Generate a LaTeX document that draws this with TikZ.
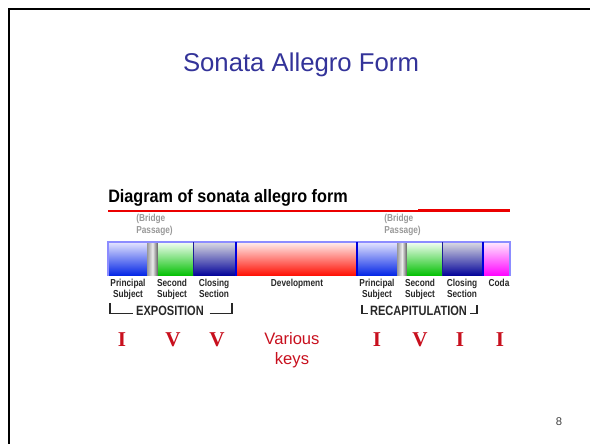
\documentclass[tikz,border=0pt]{standalone}
\usepackage{fontspec}
\setmainfont{Liberation Sans}
\newfontfamily\narrowfont[FakeStretch=0.82]{Liberation Sans}
\newfontfamily\headfont[FakeStretch=0.9]{Liberation Sans}
\newfontfamily\keyfont{Liberation Serif}
\definecolor{titleblue}{RGB}{51, 51, 153}
\definecolor{keyred}{RGB}{200, 16, 30}
\definecolor{rulered}{RGB}{235, 0, 0}
\definecolor{labelgray}{RGB}{40, 40, 40}
\definecolor{barrim}{RGB}{140, 140, 255}
\definecolor{divblue}{RGB}{0, 0, 220}
\definecolor{divnavy}{RGB}{30, 30, 150}
\usetikzlibrary{positioning}

\begin{document}
\begin{tikzpicture}[x=0.025cm, y=-0.025cm,
    seglabel/.style={font=\narrowfont\bfseries\fontsize{7.2}{7.8}\selectfont, text=labelgray, align=center, inner sep=0pt, anchor=north},
    bridgenote/.style={font=\narrowfont\bfseries\fontsize{7.2}{8.2}\selectfont, text=black!40, align=left, inner sep=0pt, anchor=north west},
    sectname/.style={font=\narrowfont\bfseries\fontsize{9.6}{10}\selectfont, text=labelgray, inner sep=0pt},
    keynum/.style={font=\keyfont\bfseries\fontsize{15}{15}\selectfont, text=keyred, inner sep=0pt, anchor=base},
    bracket/.style={line width=1.3pt, labelgray},
    principal/.style={top color=blue!10, middle color=blue!50, bottom color=blue!85!cyan!90!black},
    second/.style={top color=green!4, middle color=green!50!black!40!white, bottom color=green!75!black},
    closing/.style={top color=blue!10!gray!25, middle color=blue!50!gray!70, bottom color=blue!60!black},
    develop/.style={top color=red!6, middle color=red!50, bottom color=red!90!orange},
    coda/.style={top color=magenta!8, middle color=magenta!55, bottom color=magenta},
    bridge/.style={left color=gray!80, right color=gray!70!black, middle color=gray!15}]

  \useasboundingbox (0,0) rectangle (590,444);

  % Slide frame
  \draw[line width=1.5pt, black] (9,444) -- (9,9) -- (590,9);

  % Titles
  \node[font=\fontsize{18.3}{20}\selectfont, text=titleblue, anchor=base] (title) at (301,72) {Sonata Allegro Form};
  \node[font=\headfont\bfseries\fontsize{12.8}{14}\selectfont, anchor=base west, inner sep=0pt] (subtitle) at (108,203) {Diagram of sonata allegro form};
  \draw[rulered, line width=1pt] (108,211) -- (418,211);
  \draw[rulered, line width=1.8pt] (418,210.5) -- (510,210.5);

  % Bridge notes
  \node[bridgenote] (bridgeA) at (136,214) {(Bridge\\Passage)};
  \node[bridgenote] (bridgeB) at (384,214) {(Bridge\\Passage)};

  % Bar segments
  \fill[principal] (108,242) rectangle (147,276);
  \fill[bridge] (147,242) rectangle (158,276);
  \fill[second] (158,242) rectangle (193,276);
  \fill[closing] (193,242) rectangle (236,276);
  \fill[develop] (236,242) rectangle (357,276);
  \fill[principal] (357,242) rectangle (397,276);
  \fill[bridge] (397,242) rectangle (407,276);
  \fill[second] (407,242) rectangle (442,276);
  \fill[closing] (442,242) rectangle (483,276);
  \fill[coda] (483,242) rectangle (510,276);

  % Bar rim and dividers
  \draw[barrim, line width=1.1pt] (108,276) -- (108,242) -- (510,242) -- (510,276);
  \foreach \xd in {236, 357, 483}
    \draw[divblue, line width=1.4pt] (\xd,242) -- (\xd,276);
  \foreach \xd in {193, 442}
    \draw[divnavy, line width=0.6pt] (\xd,242) -- (\xd,276);

  % Section labels
  \node[seglabel] (prinA) at (128,279) {Principal\\Subject};
  \node[seglabel] (secA) at (172,279) {Second\\Subject};
  \node[seglabel] (closA) at (214,279) {Closing\\Section};
  \node[seglabel] (devel) at (297,279) {Development};
  \node[seglabel] (prinB) at (377,279) {Principal\\Subject};
  \node[seglabel] (secB) at (420,279) {Second\\Subject};
  \node[seglabel] (closB) at (462,279) {Closing\\Section};
  \node[seglabel] (coda) at (499,279) {Coda};

  % Exposition bracket
  \node[sectname] (expo) at (170,311) {EXPOSITION};
  \draw[bracket] (110,303) -- (110,313.5) -- ([xshift=-2]expo.west |- 0,313.5);
  \draw[bracket] ([xshift=4]expo.east |- 0,313.5) -- (232,313.5) -- (232,303);

  % Recapitulation bracket
  \node[sectname] (recap) at (418.5,311) {RECAPITULATION};
  \draw[bracket] (362,305) -- (362,313.5) -- (368,313.5);
  \draw[bracket] (470,313.5) -- (477,313.5) -- (477,305);

  % Keys
  \node[keynum] (keyA) at (122,347) {I};
  \node[keynum] (keyB) at (173,347) {V};
  \node[keynum] (keyC) at (217,347) {V};
  \node[font=\fontsize{11.8}{14.2}\selectfont, text=keyred, align=center, inner sep=0pt, anchor=north] (various) at (292,332) {Various\\keys};
  \node[keynum] (keyD) at (377,347) {I};
  \node[keynum] (keyE) at (420,347) {V};
  \node[keynum] (keyF) at (460,347) {I};
  \node[keynum] (keyG) at (500,347) {I};

  % Page number
  \node[font=\fontsize{8}{8}\selectfont, text=black!75] (pagenum) at (559,422) {8};
\end{tikzpicture}
\end{document}
